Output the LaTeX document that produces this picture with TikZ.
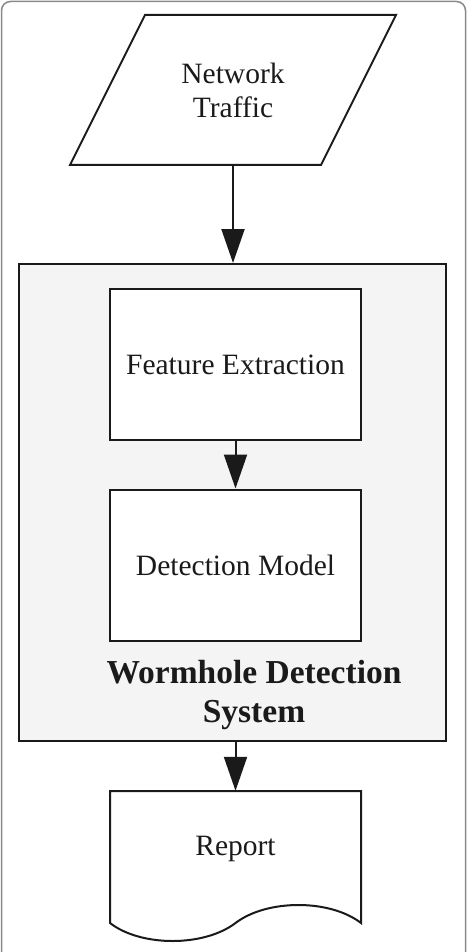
\documentclass[tikz,border=0pt]{standalone}
\usepackage{fontspec}
\setmainfont{Liberation Serif}
\usetikzlibrary{arrows.meta}
\definecolor{ink}{HTML}{1A1A1A}
\definecolor{panel}{HTML}{F4F4F4}
\definecolor{framegray}{HTML}{8A8A8A}

\begin{document}
\begin{tikzpicture}[x=1pt,y=-1pt,
  bodyfont/.style={font=\fontsize{29.5}{34}\selectfont, text=ink},
  stepbox/.style={bodyfont, draw=ink, line width=2pt, fill=white,
    minimum width=251pt, minimum height=151pt, inner sep=0pt},
  textonly/.style={bodyfont, inner sep=0pt, align=center},
  outline/.style={draw=ink, line width=2pt, line join=miter},
  flow/.style={draw=ink, line width=2pt, -{Triangle[length=34pt,width=23pt]}},
  systemtitle/.style={font=\fontsize{33.5}{39}\selectfont\bfseries, text=ink,
    inner sep=0pt, align=center}
]
\useasboundingbox (0,0) rectangle (467,952);

% outer rounded frame (runs off the bottom edge)
\draw[framegray, line width=1.5pt, rounded corners=9pt] (1.5,1.5) rectangle (465.5,990);

% input: parallelogram
\draw[outline] (145,15) -- (396,15) -- (321,165) -- (70,165) -- cycle;
\node[textonly, minimum width=251pt, minimum height=150pt] (traffic) at (233,90) {Network\\Traffic};

% system container
\node[draw=ink, line width=2pt, fill=panel, minimum width=427pt, minimum height=477pt,
  inner sep=0pt] (wds) at (232.5,502.5) {};
\node[systemtitle] (wdstitle) at (254,694.5) {Wormhole Detection\\System};

% inner stages
\node[stepbox] (feature) at (235.5,364.5) {Feature Extraction};
\node[stepbox] (detect) at (235.5,565) {Detection Model};

% output: document shape with a wavy lower edge
\draw[outline, fill=white] (110,791) -- (361,791) -- (361,923)
  .. controls (330,899) and (267,899) .. (235.5,923)
  .. controls (204,947) and (141,947) .. (110,923) -- cycle;
\node[textonly, minimum width=251pt, minimum height=116pt] (report) at (235.5,849) {Report};

% connectors
\draw[flow] (traffic.south) -- (traffic.south |- wds.north);
\draw[flow] (feature.south) -- (detect.north);
\draw[flow] (report.north |- wds.south) -- (report.north);
\end{tikzpicture}
\end{document}
